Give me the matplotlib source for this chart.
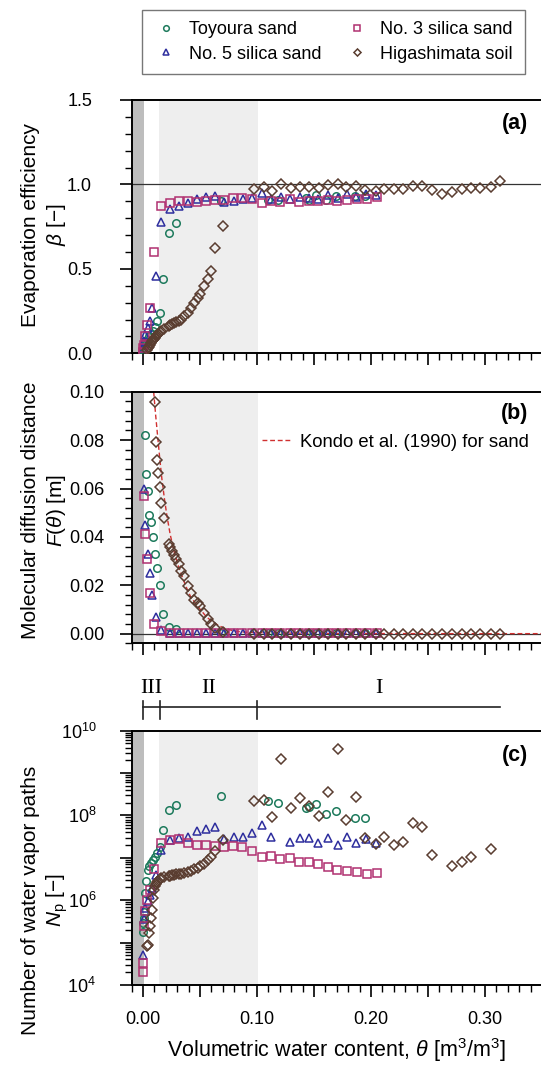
import numpy as np
import matplotlib
matplotlib.use('Agg')
import matplotlib.pyplot as plt
from matplotlib.ticker import MultipleLocator, FuncFormatter, FixedLocator, FixedFormatter, LogLocator, NullFormatter

nan = np.nan

# --- values ---
# Toyoura sand
toyoura_theta = [0.0000, 0.0002, 0.0004, 0.0007, 0.0016, 0.0027, 0.0041, 0.0055, 0.0070, 0.0087,
                 0.0104, 0.0124, 0.0146, 0.0175, 0.0225, 0.0292, 0.0683, 0.1095, 0.1180, 0.1430,
                 0.1460, 0.1520, 0.1604, 0.1690, 0.1860, 0.1950]
toyoura_beta = [0.01, 0.02, 0.03, 0.04, 0.05, 0.065, 0.08, 0.10, 0.115, 0.13,
                0.155, 0.19, 0.24, 0.44, 0.71, 0.77, 0.90, 0.91, 0.91, 0.92,
                0.91, 0.935, 0.91, 0.93, 0.93, 0.93]
toyoura_F = [nan, nan, nan, nan, 0.082, 0.066, 0.059, 0.049, 0.046, 0.040,
             0.033, 0.027, 0.020, 0.008, 0.0027, 0.0018, 0.0003, 0.0003, 0.0003, 0.0003,
             0.0003, 0.0003, 0.0003, 0.0003, 0.0003, 0.0003]
toyoura_log_np = [5.26, 5.46, 5.57, 5.73, 6.18, 6.46, 6.71, 6.81, 6.87, 6.95,
                  7.03, 7.11, 7.25, 7.66, 8.13, 8.25, 8.46, 8.34, 8.29, 8.17,
                  8.21, 8.27, 8.03, 8.11, 7.95, 7.93]

# No. 5 silica sand
no5_theta = [0.0000, 0.0006, 0.0020, 0.0044, 0.0058, 0.0079, 0.0114, 0.0160, 0.0234, 0.0313,
             0.0392, 0.0473, 0.0555, 0.0634, 0.0713, 0.0795, 0.0877, 0.0959, 0.1044, 0.1126,
             0.1208, 0.1286, 0.1374, 0.1456, 0.1538, 0.1626, 0.1708, 0.1790, 0.1872, 0.1954,
             0.2042]
no5_beta = [0.03, 0.07, 0.11, 0.15, 0.19, 0.27, 0.46, 0.78, 0.853, 0.872,
            0.888, 0.912, 0.924, 0.931, 0.894, 0.904, 0.912, 0.918, 0.951, 0.912,
            0.924, 0.912, 0.924, 0.918, 0.912, 0.937, 0.918, 0.941, 0.924, 0.941,
            0.937]
no5_F = [nan, 0.060, 0.045, 0.033, 0.025, 0.016, 0.007, 0.0015, 0.0003, 0.0003,
         0.0003, 0.0003, 0.0003, 0.0003, 0.0003, 0.0003, 0.0003, 0.0003, 0.0003, 0.0003,
         0.0003, 0.0003, 0.0003, 0.0003, 0.0003, 0.0003, 0.0003, 0.0003, 0.0003, 0.0003,
         0.0003]
no5_log_np = [4.71, 5.55, 5.81, 5.97, 6.12, 6.28, 6.60, 7.19, 7.42, 7.46,
              7.48, 7.64, 7.68, 7.72, 7.45, 7.48, 7.48, 7.59, 7.78, 7.50,
              nan, 7.38, 7.46, 7.46, 7.34, 7.46, 7.30, 7.48, 7.36, 7.44,
              7.36]

# No. 3 silica sand
no3_theta = [0.0000, 0.0003, 0.0008, 0.0020, 0.0038, 0.0064, 0.0096, 0.0158, 0.0234, 0.0312,
             0.0392, 0.0473, 0.0555, 0.0630, 0.0713, 0.0789, 0.0872, 0.0957, 0.1040, 0.1122,
             0.1204, 0.1286, 0.1367, 0.1452, 0.1534, 0.1619, 0.1704, 0.1789, 0.1876, 0.1964,
             0.2052]
no3_beta = [0.01, 0.03, 0.05, 0.10, 0.17, 0.27, 0.60, 0.87, 0.89, 0.90,
            0.904, 0.896, 0.902, 0.908, 0.905, 0.918, 0.921, 0.912, 0.892, 0.902,
            0.896, 0.912, 0.896, 0.902, 0.902, 0.908, 0.902, 0.908, 0.912, 0.912,
            0.927]
no3_F = [nan, nan, 0.057, 0.041, 0.031, 0.017, 0.0038, 0.001, 0.0003, 0.0003,
         0.0003, 0.0003, 0.0003, 0.0003, 0.0003, 0.0003, 0.0003, 0.0003, 0.0003, 0.0003,
         0.0003, 0.0003, 0.0003, 0.0003, 0.0003, 0.0003, 0.0003, 0.0003, 0.0003, 0.0003,
         0.0003]
no3_log_np = [4.31, 4.51, 5.38, 5.75, 6.00, 6.25, 6.73, 7.36, 7.42, 7.44,
              7.36, 7.30, 7.30, 7.28, 7.25, 7.29, 7.26, 7.15, 7.03, 7.04,
              6.98, 7.00, 6.89, 6.89, 6.85, 6.79, 6.71, 6.70, 6.66, 6.62,
              6.64]

# Higashimata soil
higa_theta = [0.0035, 0.0044, 0.0052, 0.0060, 0.0068, 0.0076, 0.0085, 0.0093,
              0.0102, 0.0114, 0.0123, 0.0131, 0.0146, 0.0160, 0.0180, 0.0225, 0.0239, 0.0254,
              0.0268, 0.0292, 0.0312, 0.0336, 0.0362, 0.0391, 0.0421, 0.0450, 0.0478, 0.0502,
              0.0535, 0.0566, 0.0600, 0.0634, 0.0705,
              0.0975, 0.1057, 0.1133, 0.1212, 0.1297, 0.1378, 0.1459, 0.1540, 0.1620, 0.1706,
              0.1780, 0.1870, 0.1950, 0.2040, 0.2118, 0.2200, 0.2284, 0.2366, 0.2450, 0.2538,
              0.2620, 0.2708, 0.2796, 0.2877, 0.2960, 0.3050, 0.3130]
higa_beta = [0.02, 0.03, 0.04, 0.05, 0.06, 0.07, 0.078, 0.085,
             0.089, 0.10, 0.108, 0.115, 0.125, 0.13, 0.142, 0.162, 0.168, 0.173,
             0.178, 0.186, 0.192, 0.20, 0.218, 0.24, 0.268, 0.30, 0.33, 0.35,
             0.40, 0.44, 0.49, 0.625, 0.756,
             0.971, 0.983, 0.963, 1.00, 0.981, 0.987, 0.983, 0.981, 0.997, 1.00,
             0.983, 0.993, 0.967, 0.963, 0.971, 0.971, 0.971, 0.993, 0.991, 0.967,
             0.943, 0.957, 0.971, 0.981, 0.981, 0.987, 1.02]
higa_F = [nan, nan, nan, nan, nan, nan, nan, nan,
          0.0956, 0.0794, 0.0718, 0.0664, 0.0608, 0.054, 0.048, 0.0372, 0.0359, 0.034,
          0.0327, 0.0309, 0.0286, 0.0261, 0.0237, 0.0196, 0.0166, 0.0141, 0.0128, 0.0114,
          0.0087, 0.0062, 0.0038, 0.0025, 0.0006,
          0.0, 0.0, 0.0, 0.0, 0.0, 0.0, 0.0, 0.0, 0.0, 0.0,
          0.0, 0.0, 0.0, 0.0, 0.0, 0.0, 0.0, 0.0, 0.0, 0.0,
          0.0, 0.0, 0.0, 0.0, 0.0, 0.0, 0.0]
higa_log_np = [4.92, 4.95, 5.22, 5.40, 5.58, 5.77, 6.05, 6.24,
               6.33, 6.38, 6.42, 6.46, 6.50, 6.53, 6.55, 6.57, 6.58, 6.59,
               6.60, 6.61, 6.62, 6.62, 6.63, 6.66, 6.69, 6.73, 6.76, 6.80,
               6.86, 6.94, 7.02, 7.16, 7.42,
               8.33, 8.37, 7.97, 9.33, 8.18, 8.40, 8.22, 7.99, 8.55, 9.56,
               7.89, 8.44, 7.46, 7.32, 7.48, 7.30, 7.37, 7.82, 7.72, 7.07,
               nan, 6.81, 6.91, 7.01, nan, 7.21, nan]

# Kondo et al. (1990) curve
kondo_theta = [0.0093, 0.0110, 0.0128, 0.0147, 0.0166, 0.0188, 0.0210, 0.0238, 0.0268, 0.0304,
               0.0342, 0.0378, 0.0415, 0.0458, 0.0502, 0.0555, 0.0619, 0.0700, 0.0794, 0.0900,
               0.1000, 0.1500, 0.2500, 0.3500]
kondo_F = [0.1000, 0.0905, 0.0815, 0.0720, 0.0636, 0.0555, 0.0485, 0.0410, 0.0347, 0.0287,
           0.0237, 0.0193, 0.0155, 0.0126, 0.0100, 0.0070, 0.0045, 0.0025, 0.0011, 0.0006,
           0.0004, 0.0001, 0.0000, 0.0000]

# stage boundaries (shaded bands and bracket above panel c)
dark_band = (-0.01, 0.001)
light_band = (0.014, 0.101)
stage_edges = [0.0, 0.015, 0.10, 0.313]
stage_labels = ['III', 'II', 'I']

# decades on the log axis of panel (c) and their labels
np_ticks = [1e4, 1e5, 1e6, 1e7, 1e8, 1e9, 1e10]
np_tick_labels = ['$10^{4}$', '', '$10^{6}$', '', '$10^{8}$', '', '$10^{10}$']

soils = [
    ('Toyoura sand', toyoura_theta, toyoura_beta, toyoura_F, toyoura_log_np, 'o', '#1d7a5c', 5.4),
    ('No. 5 silica sand', no5_theta, no5_beta, no5_F, no5_log_np, '^', '#2e2e9e', 5.4),
    ('No. 3 silica sand', no3_theta, no3_beta, no3_F, no3_log_np, 's', '#b03070', 5.2),
    ('Higashimata soil', higa_theta, higa_beta, higa_F, higa_log_np, 'D', '#5a3d30', 4.8),
]

plt.rcParams['font.family'] = ['Liberation Sans', 'DejaVu Sans']
plt.rcParams['mathtext.fontset'] = 'custom'
plt.rcParams['mathtext.rm'] = 'Liberation Sans'
plt.rcParams['mathtext.it'] = 'Liberation Sans:italic'
plt.rcParams['mathtext.bf'] = 'Liberation Sans:bold'

fig = plt.figure(figsize=(5.41, 10.66), dpi=100)
ax_a = fig.add_axes([0.2434, 0.6686, 0.7584, 0.2376])
ax_b = fig.add_axes([0.2434, 0.3965, 0.7584, 0.2360])
ax_c = fig.add_axes([0.2434, 0.0760, 0.7584, 0.2386])
ax_c.set_yscale('log')


def x_fmt(v, pos):
    k = int(round(v / 0.05))
    if k % 2 == 0 and v > -0.001:
        return f'{v:.2f}'
    return ''


for ax in [ax_a, ax_b, ax_c]:
    ax.axvspan(*dark_band, color='#bdbdbd', lw=0, zorder=0)
    ax.axvspan(*light_band, color='#eeeeee', lw=0, zorder=0)
    ax.set_xlim(-0.01, 0.35)
    ax.xaxis.set_major_locator(MultipleLocator(0.05))
    ax.xaxis.set_minor_locator(MultipleLocator(0.01))
    for s in ax.spines.values():
        s.set_linewidth(1.4)
    if ax is ax_c:
        ax.xaxis.set_major_formatter(FuncFormatter(x_fmt))
    else:
        ax.xaxis.set_major_formatter(NullFormatter())

handles = []
for name, th, beta, F, lnp, mk, col, ms in soils:
    kw = dict(ls='none', marker=mk, ms=ms, mfc='none', mec=col, mew=1.1, zorder=3)
    h, = ax_a.plot(th, beta, label=name, **kw)
    ax_b.plot(th, F, **kw)
    ax_c.plot(th, np.power(10.0, lnp), **kw)
    handles.append(h)

# (a) evaporation efficiency
ax_a.axhline(1.0, color='#333333', lw=0.9, zorder=2)
ax_a.set_ylim(0, 1.5)
ax_a.yaxis.set_major_locator(MultipleLocator(0.5))
ax_a.yaxis.set_minor_locator(MultipleLocator(0.1))
ax_a.yaxis.set_major_formatter(FuncFormatter(lambda v, p: f'{v:.1f}'))
ax_a.text(0.934, 0.909, '(a)', transform=ax_a.transAxes, ha='center', va='center',
          fontsize=15.5, fontweight='bold')

# (b) molecular diffusion distance
ax_b.axhline(0.0, color='#333333', lw=0.9, zorder=2)
kondo, = ax_b.plot(kondo_theta, kondo_F, ls='--', color='#d03030', lw=1.0, zorder=2,
                   dashes=(3.5, 2), label='Kondo et al. (1990) for sand')
ax_b.set_ylim(-0.004, 0.1)
ax_b.yaxis.set_major_locator(MultipleLocator(0.02))
ax_b.yaxis.set_minor_locator(MultipleLocator(0.004))
ax_b.yaxis.set_major_formatter(FuncFormatter(lambda v, p: f'{v:.2f}'))
ax_b.text(0.934, 0.915, '(b)', transform=ax_b.transAxes, ha='center', va='center',
          fontsize=15.5, fontweight='bold')
ax_b.legend(handles=[kondo], loc='center right', bbox_to_anchor=(0.985, 0.80), frameon=False,
            fontsize=13.3, handlelength=1.55, handletextpad=0.5, borderaxespad=0)

# (c) number of water vapor paths
ax_c.set_ylim(1e4, 1e10)
ax_c.yaxis.set_major_locator(FixedLocator(np_ticks))
ax_c.yaxis.set_major_formatter(FixedFormatter(np_tick_labels))
ax_c.yaxis.set_minor_locator(LogLocator(base=10, subs=np.arange(2, 10)))
ax_c.yaxis.set_minor_formatter(NullFormatter())
ax_c.text(0.934, 0.904, '(c)', transform=ax_c.transAxes, ha='center', va='center',
          fontsize=15.5, fontweight='bold')
ax_c.set_xlabel(r'Volumetric water content, $\theta$ [m$^3$/m$^3$]', fontsize=15.5, labelpad=6)

# tick styling, done after the scales and locators are set
# (y label pad differs a little between panels in the original)
y_pads = [(ax_a, 20), (ax_b, 11), (ax_c, 17)]
for ax, ypad in y_pads:
    ax.tick_params(which='major', direction='out', length=8.5, width=1.2, labelsize=13,
                   top=False, right=False)
    ax.tick_params(which='minor', direction='out', length=5, width=1.0, top=False, right=False)
    ax.xaxis.set_tick_params(which='major', pad=10)
    ax.yaxis.set_tick_params(which='major', pad=ypad)

# stage bracket above panel (c)
tr = ax_c.get_xaxis_transform()
ax_c.plot([stage_edges[0], stage_edges[-1]], [1.094, 1.094], color='#222222', lw=1.2,
          transform=tr, clip_on=False)
for e in stage_edges[:-1]:
    ax_c.plot([e, e], [1.046, 1.117], color='#222222', lw=1.2, transform=tr, clip_on=False)
for i, lab in enumerate(stage_labels):
    mid = 0.5 * (stage_edges[i] + stage_edges[i + 1])
    ax_c.text(mid, 1.164, lab, transform=tr, ha='center', va='center', fontsize=16,
              family=['Liberation Serif', 'DejaVu Serif'])

# y labels
H = 1066.0
ylabels = [
    ('Evaporation efficiency', r'$\beta$ [−]', 225),
    ('Molecular diffusion distance', r'$F$($\theta$) [m]', 510),
    ('Number of water vapor paths', r'$N_\mathrm{p}$ [−]', 900),
]
for line1, line2, yc in ylabels:
    fig.text(31 / 541, 1 - yc / H, line1, rotation=90, ha='center', va='center', fontsize=15)
    fig.text(57 / 541, 1 - yc / H, line2, rotation=90, ha='center', va='center', fontsize=15)

fig.legend(handles=handles, loc='center', bbox_to_anchor=(0.6165, 0.9606), ncol=2,
           fontsize=13, frameon=True, fancybox=False, edgecolor='#555555',
           markerscale=0.75, handlelength=1.3, columnspacing=1.33, handletextpad=0.63,
           labelspacing=0.4, borderpad=0.65)

fig.savefig('out.png', dpi=100)
